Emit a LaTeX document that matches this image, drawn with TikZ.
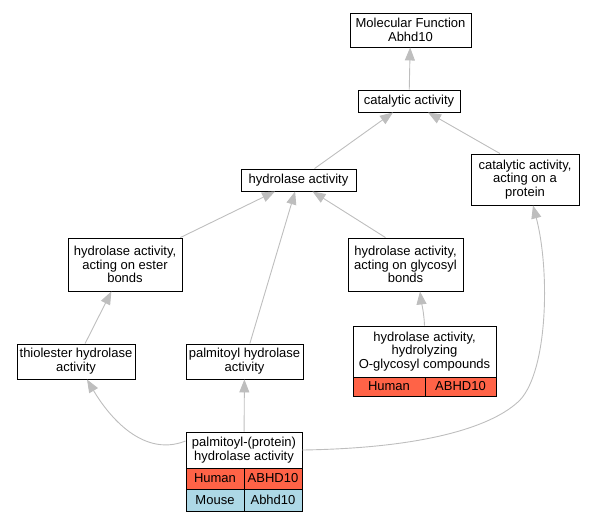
\documentclass[tikz,border=0pt]{standalone}
\usepackage{fontspec}
\setmainfont{Liberation Sans}
\usetikzlibrary{arrows.meta}
\definecolor{human}{HTML}{FF6347}
\definecolor{mouse}{HTML}{ADD8E6}
\definecolor{edgegray}{HTML}{BEBEBE}
\begin{document}
\begin{tikzpicture}[x=1pt,y=-1pt,
  term/.style={draw, line width=0.9pt, fill=white, align=center, inner sep=0pt,
    font=\fontsize{13}{13.8}\selectfont},
  cell/.style={draw, line width=0.9pt, inner sep=0pt, anchor=center,
    font=\fontsize{13}{13.8}\selectfont},
  link/.style={draw=edgegray, line width=0.9pt, -{Triangle[length=13pt,width=10pt]}}]
\useasboundingbox (0,0) rectangle (593,523);
\node[term, minimum width=121pt, minimum height=34pt] (mf) at (410.5,30) {Molecular Function\\Abhd10};
\node[term, minimum width=102pt, minimum height=22pt] (cat) at (409,101) {catalytic activity};
\node[term, minimum width=115pt, minimum height=22pt] (hyd) at (298.5,180) {hydrolase activity};
\node[term, minimum width=108pt, minimum height=51pt] (prot) at (525,179.5) {catalytic activity,\\acting on a\\protein};
\node[term, minimum width=114pt, minimum height=53pt] (est) at (125,264.5) {hydrolase activity,\\acting on ester\\bonds};
\node[term, minimum width=115pt, minimum height=53pt] (gly) at (405.5,264.5) {hydrolase activity,\\acting on glycosyl\\bonds};
\node[term, minimum width=118pt, minimum height=35pt] (thio) at (76,361.5) {thiolester hydrolase\\activity};
\node[term, minimum width=117pt, minimum height=35pt] (palm) at (244.5,361.5) {palmitoyl hydrolase\\activity};
% O-glycosyl table
\node[term, minimum width=143pt, minimum height=51pt] (ogly) at (424.5,351.5) {hydrolase activity,\\hydrolyzing\\O-glycosyl compounds};
\node[cell, fill=human, minimum width=72pt, minimum height=19pt] (oglyh) at (389,386.5) {Human};
\node[cell, fill=human, minimum width=71pt, minimum height=19pt] (oglyg) at (460.5,386.5) {ABHD10};
% palmitoyl-(protein) table
\node[term, minimum width=116pt, minimum height=36pt] (pp) at (244,450) {palmitoyl-(protein)\\hydrolase activity};
\node[cell, fill=human, minimum width=58pt, minimum height=21pt] (pph) at (215,478.5) {Human};
\node[cell, fill=human, minimum width=58pt, minimum height=21pt] (pphg) at (273,478.5) {ABHD10};
\node[cell, fill=mouse, minimum width=58pt, minimum height=22pt] (ppm) at (215,500) {Mouse};
\node[cell, fill=mouse, minimum width=58pt, minimum height=22pt] (ppmg) at (273,500) {Abhd10};
% edges
\draw[link] (cat) -- (mf);
\draw[link] (hyd) -- (cat);
\draw[link] ([xshift=-25pt]prot.north) -- ([xshift=19pt]cat.south);
\draw[link] (est) -- (hyd);
\draw[link] (palm) -- (hyd);
\draw[link] ([xshift=-20pt]gly.north) -- ([xshift=14pt]hyd.south);
\draw[link] (ogly.north) .. controls (424,312) and (421,300) .. ([xshift=14.5pt]gly.south);
\draw[link] (thio) -- (est);
\draw[link] (pp) -- (palm);
\draw[link] ([yshift=9pt]pp.west) .. controls (140,459) and (105,410) .. ([xshift=11pt]thio.south);
\draw[link] (pp.east) .. controls (430,448) and (495,425) .. (520,400) .. controls (548,370) and (550,270) .. ([xshift=8pt]prot.south);
\end{tikzpicture}
\end{document}
